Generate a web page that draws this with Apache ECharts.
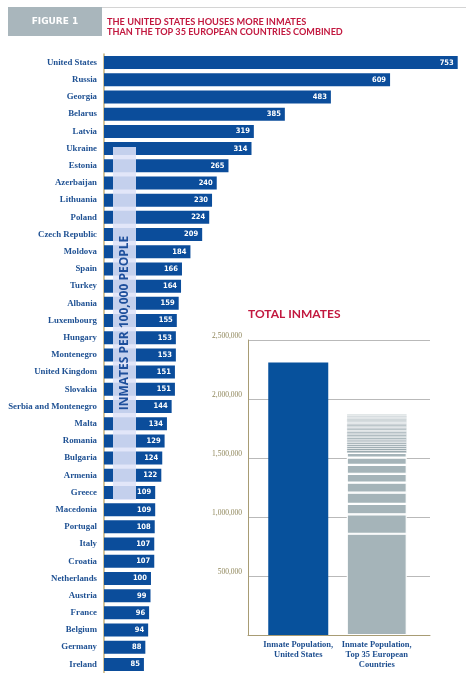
<!DOCTYPE html>
<html>
<head>
<meta charset="utf-8">
<script src="https://cdn.jsdelivr.net/npm/echarts@6/dist/echarts.min.js"></script>
<style>html,body{margin:0;padding:0;background:#fff;}#c{width:466px;height:673px;}</style>
</head>
<body>
<div id="c"></div>
<script>
// ---- Data ----
const countries = ['United States','Russia','Georgia','Belarus','Latvia','Ukraine','Estonia','Azerbaijan','Lithuania','Poland','Czech Republic','Moldova','Spain','Turkey','Albania','Luxembourg','Hungary','Montenegro','United Kingdom','Slovakia','Serbia and Montenegro','Malta','Romania','Bulgaria','Armenia','Greece','Macedonia','Portugal','Italy','Croatia','Netherlands','Austria','France','Belgium','Germany','Ireland'];
const ratesPer100k = [753,609,483,385,319,314,265,240,230,224,209,184,166,164,159,155,153,153,151,151,144,134,129,124,122,109,109,108,107,107,100,99,96,94,88,85];

const totalCategories = ['Inmate Population,\nUnited States','Inmate Population,\nTop 35 European\nCountries'];
const usTotalInmates = 2310000;
const europeStackCountries = ['Russia','Ukraine','United Kingdom','Poland','Germany','Turkey','Spain','Italy','France','Belarus','Romania','Georgia','Netherlands','Azerbaijan','Czech Republic','Hungary','Portugal','Greece','Serbia and Montenegro','Bulgaria','Belgium','Lithuania','Slovakia','Austria','Moldova','Latvia','Albania','Croatia','Estonia','Ireland','Armenia','Macedonia','Montenegro','Luxembourg','Malta'];
const europeStackInmates = [858000,165000,88000,95000,85000,75000,75000,62000,40000,20000,18000,17000,16000,15000,15000,14000,14000,13000,13000,13000,12000,12000,12000,12000,11000,11000,11000,11000,10000,10000,10000,10000,10000,9000,9000];
const totalTicks = [0,500000,1000000,1500000,2000000,2500000];

// ---- Chart ----
const chart = echarts.init(document.getElementById('c'), null, {renderer:'canvas'});
const blue = '#0b4d9b';
const serif = "'Liberation Serif','DejaVu Serif',serif";
const narrow = "'Liberation Sans Narrow','DejaVu Sans Condensed','Roboto',sans-serif";
const fmt = v => v === 0 ? '' : String(v).replace(/\B(?=(\d{3})+(?!\d))/g, ',');

const europeSeries = europeStackInmates.map((v, i) => ({
  type:'bar', name: europeStackCountries[i], xAxisIndex:2, yAxisIndex:2, stack:'tot',
  data:['-', v], barWidth:60,
  itemStyle: v >= 30000
    ? {color:'#a5b4b9', borderColor:'#ffffff', borderWidth:1.1}
    : {color:'#90a1a7', borderColor:'#ffffff', borderWidth:0.4}
}));

const option = {
  animation:false,
  grid:[
    {left:104, top:54, width:357, height:620.6},
    {left:248, top:340, width:182, height:295},
    {left:259, top:340, width:157, height:295}
  ],
  xAxis:[
    {gridIndex:0, type:'value', min:0, max:760, show:false},
    {gridIndex:1, type:'value', min:0, max:1, axisLine:{show:true, lineStyle:{color:'#a89c74'}}, axisTick:{show:false}, axisLabel:{show:false}, splitLine:{show:false}},
    {gridIndex:2, type:'category', data: totalCategories, axisLine:{show:false}, axisTick:{show:false},
      axisLabel:{color:'#1d4e8f', fontFamily:serif, fontSize:8.5, fontWeight:'bold', lineHeight:10, margin:5, interval:0}}
  ],
  yAxis:[
    {gridIndex:0, type:'category', data: countries, inverse:true,
      axisLine:{show:true, lineStyle:{color:'#c4b07c', width:1.5}}, axisTick:{show:false},
      axisLabel:{color:'#1f5193', fontFamily:serif, fontSize:8.8, fontWeight:'bold', margin:7}},
    {gridIndex:1, type:'value', min:totalTicks[0], max:totalTicks[totalTicks.length-1], interval:500000,
      axisLine:{show:true, lineStyle:{color:'#a89c74'}}, axisTick:{show:false},
      splitLine:{show:true, lineStyle:{color:'#b9b9b9'}},
      axisLabel:{formatter: fmt, color:'#8f865a', fontFamily:serif, fontSize:7.5, verticalAlign:'bottom', margin:6}},
    {gridIndex:2, type:'value', min:0, max:2500000, show:false}
  ],
  series:[
    {type:'bar', xAxisIndex:0, yAxisIndex:0, data: ratesPer100k, barWidth:13,
      itemStyle:{color: blue},
      label:{show:true, position:'insideRight', distance:4, color:'#ffffff', fontSize:7.5, fontWeight:'bold', fontFamily:narrow}},
    {type:'bar', name:'United States', xAxisIndex:2, yAxisIndex:2, stack:'tot', data:[usTotalInmates, '-'], barWidth:60,
      itemStyle:{color:'#07519c'}},
    ...europeSeries
  ],
  graphic:[
    {type:'line', z:50, shape:{x1:102, y1:7.5, x2:466, y2:7.5}, style:{stroke:'#d4d4d4', lineWidth:1}},
    {type:'rect', z:50, shape:{x:8, y:7, width:94, height:29}, style:{fill:'#a9b6bc'}},
    {type:'text', z:51, x:55, y:21.5, style:{text:'FIGURE 1', fill:'#ffffff', font:"bold 9px 'DejaVu Sans'", textAlign:'center', textVerticalAlign:'middle'}},
    {type:'text', z:51, x:107, y:22, scaleX:0.92, style:{text:'THE UNITED STATES HOUSES MORE INMATES', fill:'#c2183f', font:"bold 10px Lato", textAlign:'left', textVerticalAlign:'middle'}},
    {type:'text', z:51, x:107, y:32, scaleX:0.91, style:{text:'THAN THE TOP 35 EUROPEAN COUNTRIES COMBINED', fill:'#c2183f', font:"bold 10px Lato", textAlign:'left', textVerticalAlign:'middle'}},
    {type:'rect', z:100, shape:{x:113, y:147, width:23, height:353}, style:{fill:'rgba(222,226,248,0.88)'}},
    {type:'text', z:101, x:125, y:323, rotation:Math.PI/2, style:{text:'INMATES PER 100,000 PEOPLE', fill:'#1e4f9c', font:"bold 12px 'Open Sans'", textAlign:'center', textVerticalAlign:'middle'}},
    {type:'text', z:51, x:248, y:314.5, style:{text:'TOTAL INMATES', fill:'#c2183f', font:"bold 12px Lato", textAlign:'left', textVerticalAlign:'middle'}}
  ]
};
chart.setOption(option);
</script>
</body>
</html>
